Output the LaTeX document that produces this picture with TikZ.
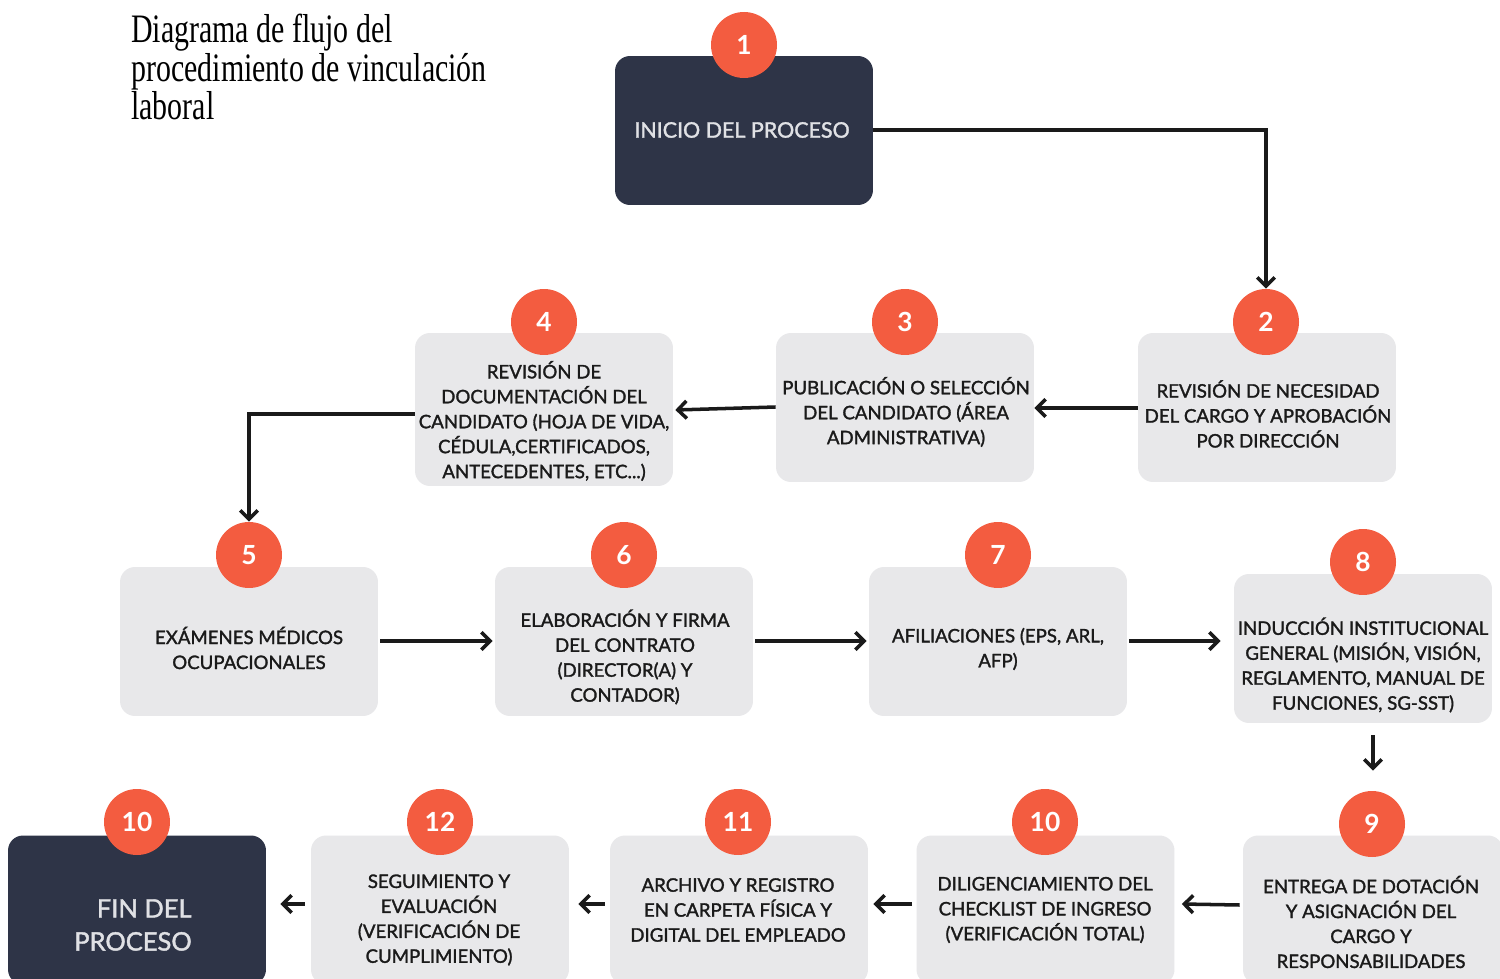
\documentclass[tikz,border=0pt]{standalone}
\usepackage{fontspec}
\setmainfont{Lato}
\newfontfamily\boxfont[RawFeature={embolden=1.6}]{Lato}
\newfontfamily\titlefont[FakeStretch=0.74]{Liberation Serif}
\usetikzlibrary{arrows.meta}
\definecolor{darkbox}{HTML}{2E3447}
\definecolor{lightbox}{HTML}{E8E8EA}
\definecolor{badge}{HTML}{F35C40}
\definecolor{ink}{HTML}{1A1A1A}
\definecolor{paletext}{HTML}{E0E1E5}
\begin{document}
\begin{tikzpicture}[x=0.02cm,y=-0.02cm,
  grayboxst/.style={draw=none,fill=lightbox,rounded corners=0.3cm,minimum width=5.16cm,minimum height=2.98cm,inner sep=0pt},
  darkboxst/.style={draw=none,fill=darkbox,rounded corners=0.3cm,minimum width=5.16cm,minimum height=2.98cm,inner sep=0pt},
  badgest/.style={circle,fill=badge,minimum size=1.32cm,inner sep=0pt,text=white,font=\fontsize{15}{15}\selectfont\bfseries},
  txt/.style={align=center,text=ink,font=\boxfont\fontsize{10.6}{14.2}\selectfont,inner sep=0pt},
  darktxt/.style={align=center,text=paletext,inner sep=0pt},
  conn/.style={draw=ink,line width=2pt,-{Straight Barb[length=5pt,width=10pt,line width=2pt]}}
]
\useasboundingbox (0,0) rectangle (1500,979);
\clip (0,0) rectangle (1500,979);
\fill[white] (0,0) rectangle (1500,979);

% title
\node[anchor=north west,align=left,inner sep=0pt,font=\titlefont\fontsize{23}{20.5}\selectfont] (title) at (131,14) {Diagrama de flujo del\\procedimiento de vinculación\\laboral};

% boxes
\node[darkboxst] (b1) at (744,130.5) {};
\node[grayboxst] (b2) at (1267,407.5) {};
\node[grayboxst] (b3) at (905,407.5) {};
\node[grayboxst,minimum height=3.06cm] (b4) at (544,409.5) {};
\node[grayboxst] (b5) at (249,641.5) {};
\node[grayboxst] (b6) at (624,641.5) {};
\node[grayboxst] (b7) at (998,641.5) {};
\node[grayboxst] (b8) at (1363,648.5) {};
\node[grayboxst,minimum width=5.2cm] (b9) at (1373,910) {};
\node[grayboxst] (b10) at (1045.5,910) {};
\node[grayboxst] (b11) at (739,910) {};
\node[grayboxst] (b12) at (440,910) {};
\node[darkboxst] (b13) at (137,910) {};

% texts
\node[darktxt,font=\boxfont\fontsize{12.2}{16}\selectfont] (t1) at (742,130) {INICIO DEL PROCESO};
\node[txt] (t2) at (1268,414) {REVISIÓN DE NECESIDAD\\DEL CARGO Y APROBACIÓN\\POR DIRECCIÓN};
\node[txt] (t3) at (906,412) {PUBLICACIÓN O SELECCIÓN\\DEL CANDIDATO (ÁREA\\ADMINISTRATIVA)};
\node[txt] (t4) at (544,421) {REVISIÓN DE\\DOCUMENTACIÓN DEL\\CANDIDATO (HOJA DE VIDA,\\CÉDULA,CERTIFICADOS,\\ANTECEDENTES, ETC...)};
\node[txt] (t5) at (249,648) {EXÁMENES MÉDICOS\\OCUPACIONALES};
\node[txt] (t6) at (625,657) {ELABORACIÓN Y FIRMA\\DEL CONTRATO\\(DIRECTOR(A) Y\\CONTADOR)};
\node[txt] (t7) at (998,649) {AFILIACIONES (EPS, ARL,\\AFP)};
\node[txt] (t8) at (1363,665) {INDUCCIÓN INSTITUCIONAL\\GENERAL (MISIÓN, VISIÓN,\\REGLAMENTO, MANUAL DE\\FUNCIONES, SG-SST)};
\node[txt] (t9) at (1371,922) {ENTREGA DE DOTACIÓN\\Y ASIGNACIÓN DEL\\CARGO Y\\RESPONSABILIDADES};
\node[txt] (t10) at (1045,910) {DILIGENCIAMIENTO DEL\\CHECKLIST DE INGRESO\\(VERIFICACIÓN TOTAL)};
\node[txt] (t11) at (738,910) {ARCHIVO Y REGISTRO\\EN CARPETA FÍSICA Y\\DIGITAL DEL EMPLEADO};
\node[txt] (t12) at (439,920) {SEGUIMIENTO Y\\EVALUACIÓN\\(VERIFICACIÓN DE\\CUMPLIMIENTO)};
\node[darktxt,font=\boxfont\fontsize{14.5}{18.8}\selectfont] (t13) at (133,925) {\hspace*{0.45cm}FIN DEL\\PROCESO};

% badges
\node[badgest] (c1) at (744,45) {1};
\node[badgest] (c2) at (1266,322) {2};
\node[badgest] (c3) at (905,322) {3};
\node[badgest] (c4) at (544,322) {4};
\node[badgest] (c5) at (249,555) {5};
\node[badgest] (c6) at (624,555) {6};
\node[badgest] (c7) at (998,555) {7};
\node[badgest] (c8) at (1363,562) {8};
\node[badgest] (c9) at (1372,824) {9};
\node[badgest] (c10) at (1045,822) {10};
\node[badgest] (c11) at (738,822) {11};
\node[badgest] (c12) at (440,822) {12};
\node[badgest] (c13) at (137,822) {10};

% connector anchor points
\coordinate (e1) at (1266,130);
\coordinate (e4) at (249,414);

\draw[conn] (b1.east |- 0,130) -- (e1) -- (c2.north);
\draw[conn] (b2.west |- 0,408) -- (b3.east |- 0,408);
\draw[conn] (b3.west |- 0,407) -- ([xshift=0.04cm]b4.east |- 0,410);
\draw[conn] (b4.west |- 0,414) -- (e4) -- (c5.north);
\draw[conn] ([xshift=0.04cm]b5.east |- 0,641) -- ([xshift=-0.04cm]b6.west |- 0,641);
\draw[conn] ([xshift=0.04cm]b6.east |- 0,641) -- ([xshift=-0.04cm]b7.west |- 0,641);
\draw[conn] ([xshift=0.04cm]b7.east |- 0,641) -- ([xshift=-0.26cm]b8.west |- 0,641);
\draw[conn] ([yshift=-0.24cm]b8.south -| 1373,0) -- ([yshift=0.4cm]c9.north -| 1373,0);
\draw[conn] ([xshift=-0.06cm]b9.west |- 0,905) -- ([xshift=0.14cm]b10.east |- 0,904);
\draw[conn] ([xshift=-0.08cm]b10.west |- 0,904) -- ([xshift=0.1cm]b11.east |- 0,904);
\draw[conn] ([xshift=-0.1cm]b11.west |- 0,904) -- ([xshift=0.18cm]b12.east |- 0,904);
\draw[conn] ([xshift=-0.12cm]b12.west |- 0,904) -- ([xshift=0.28cm]b13.east |- 0,904);
\end{tikzpicture}
\end{document}
